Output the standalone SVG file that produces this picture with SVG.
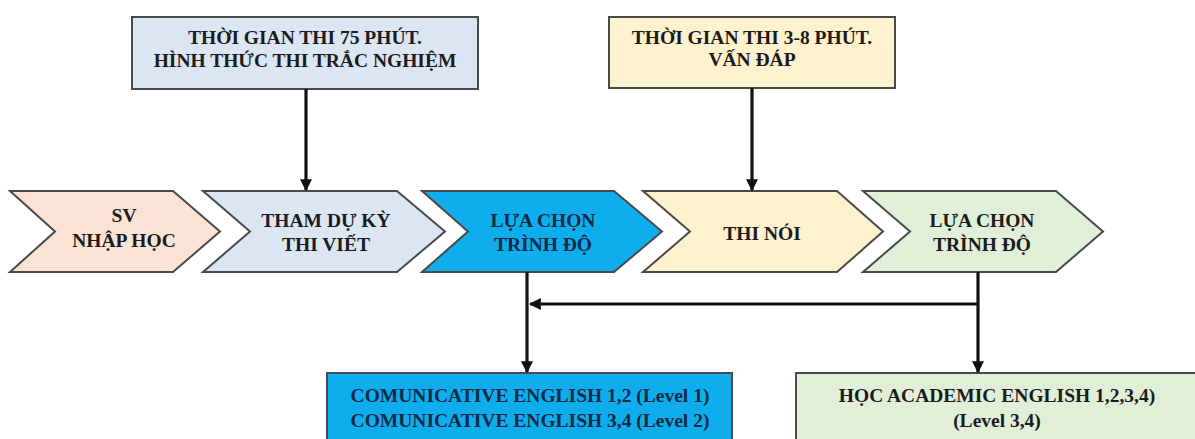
<svg xmlns="http://www.w3.org/2000/svg" width="1195" height="439" viewBox="0 0 1195 439">
  <defs>
    <style>
      .shape { stroke: #4a4a4a; stroke-width: 2; }
      .t { font-family: "Liberation Serif", "Times New Roman", serif; font-weight: bold; font-size: 19.5px; text-anchor: middle; fill: #1b1b1b; }
      .tb { fill: #0c2a45; }
      .conn { stroke: #111; stroke-width: 3.2; fill: none; }
      .peach { fill: #FAE3D5; }
      .lblue { fill: #DCE5F2; }
      .blue { fill: #0FADEB; }
      .yellow { fill: #FEF1CD; }
      .green { fill: #E1EED8; }
    </style>
    <marker id="arr" viewBox="0 0 10 10" refX="9" refY="5" markerWidth="13" markerHeight="12" markerUnits="userSpaceOnUse" orient="auto">
      <path d="M0,0 L10,5 L0,10 Z" fill="#111"/>
    </marker>
  </defs>
  <rect width="1195" height="439" fill="#ffffff"/>

  <g id="box-written">
    <rect class="shape lblue" x="132" y="17" width="346" height="72"/>
    <text class="t" x="305" y="44">THỜI GIAN THI 75 PHÚT.</text>
    <text class="t" x="305" y="67">HÌNH THỨC THI TRẮC NGHIỆM</text>
  </g>
  <g id="box-oral">
    <rect class="shape yellow" x="609" y="17" width="286" height="71"/>
    <text class="t" x="752" y="44">THỜI GIAN THI 3-8 PHÚT.</text>
    <text class="t" x="752" y="66">VẤN ĐÁP</text>
  </g>

  <g id="step-enroll">
    <path class="shape peach" d="M10,191 H173 L220,231.5 L173,272 H10 L55,231.5 Z"/>
    <text class="t" x="124" y="222">SV</text>
    <text class="t" x="124" y="247">NHẬP HỌC</text>
  </g>
  <g id="step-written">
    <path class="shape lblue" d="M203,191 H397 L445,231.5 L397,272 H203 L250,231.5 Z"/>
    <text class="t" x="326" y="227">THAM DỰ KỲ</text>
    <text class="t" x="326" y="251">THI VIẾT</text>
  </g>
  <g id="step-choose1">
    <path class="shape blue" d="M422,191 H614 L662,231.5 L614,272 H422 L468,231.5 Z"/>
    <text class="t tb" x="543" y="227">LỰA CHỌN</text>
    <text class="t tb" x="543" y="251">TRÌNH ĐỘ</text>
  </g>
  <g id="step-oral">
    <path class="shape yellow" d="M643,191 H837 L883,231.5 L837,272 H643 L690,231.5 Z"/>
    <text class="t" x="762" y="240">THI NÓI</text>
  </g>
  <g id="step-choose2">
    <path class="shape green" d="M863,191 H1056 L1103,231.5 L1056,272 H863 L910,231.5 Z"/>
    <text class="t" x="982" y="227">LỰA CHỌN</text>
    <text class="t" x="982" y="251">TRÌNH ĐỘ</text>
  </g>

  <g id="box-communicative">
    <rect class="shape blue" x="327" y="373" width="405" height="80"/>
    <text class="t tb" x="530" y="402">COMUNICATIVE ENGLISH 1,2 (Level 1)</text>
    <text class="t tb" x="530" y="427">COMUNICATIVE ENGLISH 3,4 (Level 2)</text>
  </g>
  <g id="box-academic">
    <rect class="shape green" x="796" y="373" width="404" height="80"/>
    <text class="t" x="997" y="402">HỌC ACADEMIC ENGLISH 1,2,3,4)</text>
    <text class="t" x="997" y="427">(Level 3,4)</text>
  </g>

  <g id="connectors">
    <line class="conn" x1="306" y1="89" x2="306" y2="190" marker-end="url(#arr)"/>
    <line class="conn" x1="752" y1="88" x2="752" y2="190" marker-end="url(#arr)"/>
    <line class="conn" x1="527" y1="272" x2="527" y2="372" marker-end="url(#arr)"/>
    <line class="conn" x1="978" y1="272" x2="978" y2="372" marker-end="url(#arr)"/>
    <line class="conn" x1="978" y1="304" x2="530" y2="304" marker-end="url(#arr)"/>
  </g>
</svg>
